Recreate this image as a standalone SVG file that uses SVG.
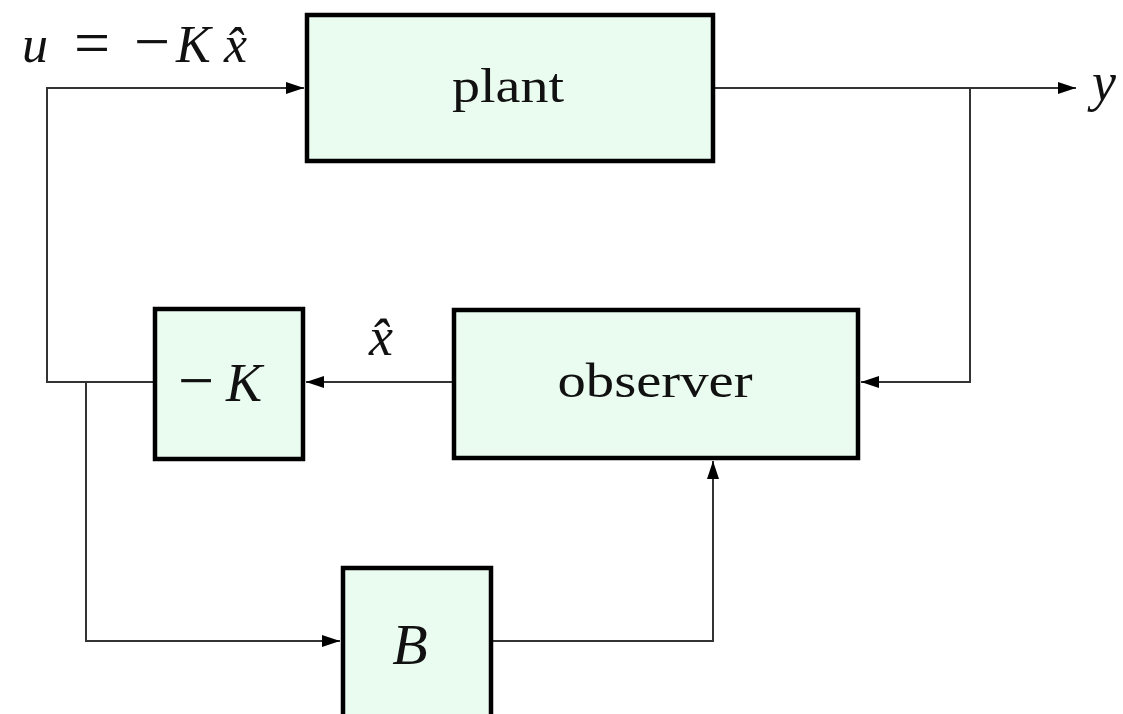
<svg xmlns="http://www.w3.org/2000/svg" width="1123" height="714" viewBox="0 0 1123 714">
<style>
.box{fill:#eafcf0;stroke:#000;stroke-width:4.5}
.lbl{font-family:"Liberation Serif","DejaVu Serif",serif;fill:#111}
.it{font-style:italic}
.op{font-style:normal;font-size:64px}
.wire{fill:none;stroke:#333;stroke-width:2}
</style>
<defs>
<marker id="ah" viewBox="0 0 18 12" refX="18" refY="6" markerWidth="18" markerHeight="12" markerUnits="userSpaceOnUse" orient="auto">
<path d="M0,0 L18,6 L0,12 Z" fill="#000"/>
</marker>
</defs>
<rect width="1123" height="714" fill="#fff"/>
<g id="connectors">
<path class="wire" d="M154,382 H47 V88 H304" marker-end="url(#ah)"/>
<path class="wire" d="M713,88 H1076" marker-end="url(#ah)"/>
<path class="wire" d="M970,88 V382 H861" marker-end="url(#ah)"/>
<path class="wire" d="M453,382 H306" marker-end="url(#ah)"/>
<path class="wire" d="M86,382 V641 H340" marker-end="url(#ah)"/>
<path class="wire" d="M491,641 H713 V461" marker-end="url(#ah)"/>
</g>
<g id="plant">
<rect class="box" x="307" y="15" width="406" height="146"/>
<text class="lbl" x="508" y="102" font-size="48" text-anchor="middle" textLength="112" lengthAdjust="spacingAndGlyphs">plant</text>
</g>
<g id="observer">
<rect class="box" x="454" y="310" width="404" height="148"/>
<text class="lbl" x="655" y="397" font-size="48" text-anchor="middle" textLength="195" lengthAdjust="spacingAndGlyphs">observer</text>
</g>
<g id="gainK">
<rect class="box" x="155" y="309" width="148" height="150"/>
<text class="lbl" y="401" font-size="54"><tspan class="op" x="178" y="402">−</tspan><tspan class="it" x="226" y="401">K</tspan></text>
</g>
<g id="gainB">
<rect class="box" x="343" y="568" width="148" height="160"/>
<text class="lbl it" x="410" y="664" font-size="58" text-anchor="middle">B</text>
</g>
<g id="labels">
<text class="lbl" y="62" font-size="52"><tspan class="it" x="22">u</tspan><tspan class="op" x="74" y="64">=</tspan><tspan class="op" x="134" y="63">−</tspan><tspan class="it" x="176" y="62">K</tspan><tspan class="it" x="224">x̂</tspan></text>
<text class="lbl it" x="381" y="355" font-size="54" text-anchor="middle">x̂</text>
<text class="lbl it" x="1104" y="100" font-size="54" text-anchor="middle">y</text>
</g>
</svg>
